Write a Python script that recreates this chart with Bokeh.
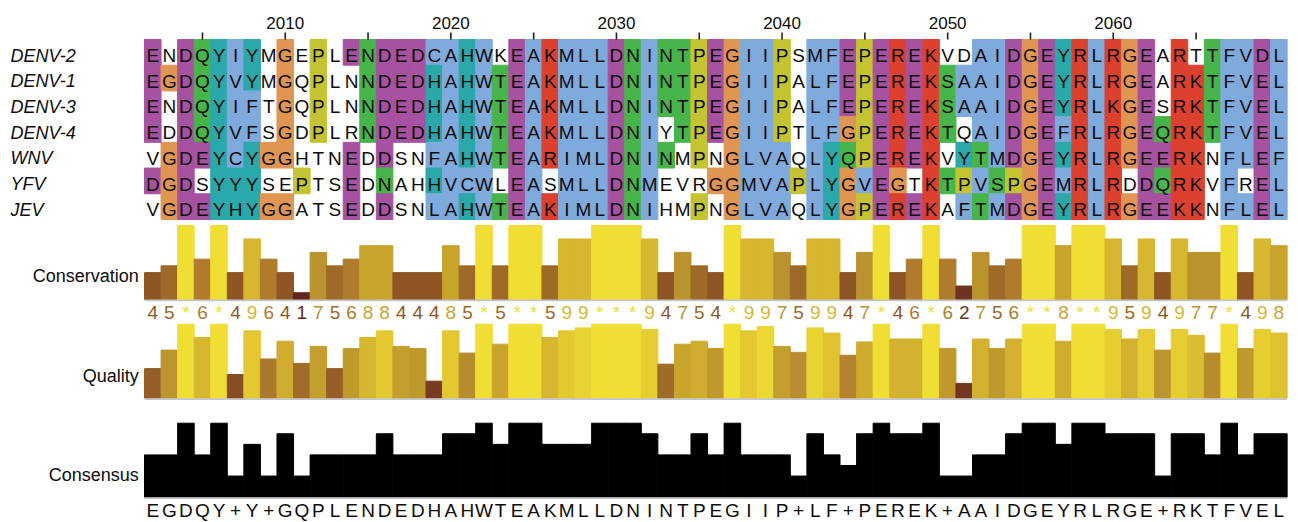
from bokeh.plotting import figure
from bokeh.models import Range1d
from bokeh.embed import file_html
from bokeh.resources import INLINE
from bokeh.core.properties import value

# ---------------- data ----------------
species = ["DENV-2", "DENV-1", "DENV-3", "DENV-4", "WNV", "YFV", "JEV"]
sequences = [
    "ENDQYIYMGEPLENDEDCAHWKEAKMLLDNINTPEGIIPSMFEPEREKVDAIDGEYRLRGEARTTFVDL",
    "EGDQYVYMGQPLNNDEDHAHWTEAKMLLDNINTPEGIIPALFEPEREKSAAIDGEYRLRGEARKTFVEL",
    "ENDQYIFTGQPLNNDEDHAHWTEAKMLLDNINTPEGIIPALFEPEREKSAAIDGEYRLKGESRKTFVEL",
    "EDDQYVFSGDPLRNDEDHAHWTEAKMLLDNIYTPEGIIPTLFGPEREKTQAIDGEFRLRGEQRKTFVEL",
    "VGDEYCYGGHTNEDDSNFAHWTEARIMLDNINMPNGLVAQLYQPEREKVYTMDGEYRLRGEERKNFLEF",
    "DGDSYYYSEPTSEDNAHHVCWLEASMLLDNMEVRGGMVAPLYGVEGTKTPVSPGEMRLRDDQRKVFREL",
    "VGDEYHYGGATSEDDSNLAHWTEAKIMLDNIHMPNGLVAQLYGPEREKAFTMDGEYRLRGEEKKNFLEL",
]
# 1 = residue is coloured (Clustal X scheme), 0 = left white
colour_masks = [
    "1011111010 1011111111 1011111111 1111111110 1111111100 1111111111 101011111",
    "1111111010 1001111111 1111111111 1111111110 1111111111 1111111111 101111111",
    "1011111010 1001111111 1111111111 1111111110 1111111111 1111111111 101111111",
    "1011111010 1001111111 1111111111 1011111110 1111111110 1111111111 111111111",
    "0111111110 0010100111 1111111111 1101011110 1111111101 1111111111 111101111",
    "1110111001 0010100111 1011011111 1000111111 1111110111 1111111110 111101011",
    "0111111110 0010100111 1111111111 1001011110 1111111101 1111111111 111101111",
]
first_position = 2002
minor_ticks = [2005, 2015, 2025, 2035, 2045, 2055, 2065]
labelled_ticks = [2010, 2020, 2030, 2040, 2050, 2060]

conservation = ("4 5 * 6 * 4 9 6 4 1 7 5 6 8 8 4 4 4 8 5 * 5 * * 5 9 9 * * * "
                "9 4 7 5 4 * 9 9 7 5 9 9 4 7 * 4 6 * 6 2 7 5 6 * * 8 * * 9 5 "
                "9 4 9 7 7 * 4 9 8").split()
quality = [0.40, 0.65, 1.00, 0.82, 1.00, 0.32, 0.91, 0.53, 0.77, 0.47,
           0.70, 0.40, 0.67, 0.82, 0.91, 0.70, 0.67, 0.23, 0.91, 0.61,
           1.00, 0.73, 1.00, 1.00, 0.82, 0.91, 0.95, 1.00, 1.00, 1.00,
           0.93, 0.46, 0.73, 0.77, 0.67, 1.00, 0.91, 0.97, 0.70, 0.62,
           0.95, 0.88, 0.58, 0.76, 1.00, 0.80, 0.80, 1.00, 0.67, 0.20,
           0.80, 0.67, 0.80, 1.00, 1.00, 0.77, 1.00, 1.00, 0.93, 0.80,
           0.93, 0.65, 0.93, 0.85, 0.61, 1.00, 0.67, 0.93, 0.88]
consensus = "EGDQY+Y+GQPLENDEDHAHWTEAKMLLDNINTPEGIIP+LF+PEREK+AAIDGEYRLRGE+RKTFVEL"
consensus_count = [4, 4, 7, 4, 7, 2, 5, 2, 6, 2,
                   4, 4, 4, 4, 6, 4, 4, 4, 6, 6,
                   7, 5, 7, 7, 5, 5, 5, 7, 7, 7,
                   6, 4, 4, 6, 4, 7, 4, 4, 4, 2,
                   6, 4, 3, 6, 7, 6, 6, 7, 2, 2,
                   4, 4, 6, 7, 7, 5, 7, 7, 6, 6,
                   6, 2, 6, 6, 4, 7, 4, 6, 6]
n_seqs = 7

# ---------------- styling ----------------
residue_colours = {
    "blue": "#7faadc", "red": "#dc402e", "purple": "#a752a0", "green": "#48b54a",
    "orange": "#e09652", "yellow": "#c4c432", "cyan": "#2aa8aa",
}
residue_class = {}
for aa in "AILMFWVC":
    residue_class[aa] = "blue"
for aa in "KR":
    residue_class[aa] = "red"
for aa in "ED":
    residue_class[aa] = "purple"
for aa in "NQST":
    residue_class[aa] = "green"
residue_class["G"] = "orange"
residue_class["P"] = "yellow"
for aa in "HY":
    residue_class[aa] = "cyan"

level_colours = ["#54201a", "#60281c", "#6e3420", "#7e4522", "#8e5624", "#9d6a28",
                 "#ae7c2c", "#ba922e", "#c9a42c", "#d7b630", "#e4c832", "#f0de34"]


def hex2rgb(h):
    return tuple(int(h[i:i + 2], 16) for i in (1, 3, 5))


def grad(level):
    level = min(max(level, 0.0), 11.0)
    lo = int(level)
    hi = min(lo + 1, 11)
    t = level - lo
    a, b = hex2rgb(level_colours[lo]), hex2rgb(level_colours[hi])
    return "#%02x%02x%02x" % tuple(int(round(a[k] + (b[k] - a[k]) * t)) for k in range(3))


FONT = value("Liberation Sans")
INK = "#0d0d0d"

# ---------------- layout (page pixels) ----------------
W, H, MARGIN = 1298, 522, 0
COL_LEFT, COL_W = 144.0, 16.56
ROW_TOP, ROW_H = 39.0, 25.71
CONS_BASE, QUAL_BASE, CSUS_BASE, TRACK_H = 299.0, 397.7, 496.7, 74.0

n = len(sequences[0])
positions = [first_position + i for i in range(n)]


def frac_x(px):
    return (px - MARGIN) / W


def frac_y(py):
    return (MARGIN + H - py) / H


def band(va, fa, vb, fb):
    span = (vb - va) / (fb - fa)
    start = va - fa * span
    return start, start + span


xs, xe = band(positions[0] - 0.5, frac_x(COL_LEFT), positions[-1] + 0.5, frac_x(COL_LEFT + n * COL_W))


def x_at(px):
    return xs + frac_x(px) * (xe - xs)


nrows = len(species)
ys, ye = band(-0.5, frac_y(ROW_TOP), nrows - 0.5, frac_y(ROW_TOP + nrows * ROW_H))
cs, ce = band(0, frac_y(CONS_BASE), 11, frac_y(CONS_BASE - TRACK_H))
qs, qe = band(0, frac_y(QUAL_BASE), 1, frac_y(QUAL_BASE - TRACK_H))
ss, se = band(0, frac_y(CSUS_BASE), 100, frac_y(CSUS_BASE - TRACK_H))

p = figure(width=W, height=H, x_range=Range1d(xs, xe), y_range=Range1d(ys, ye),
           output_backend="svg", toolbar_location=None, min_border=0,
           x_axis_type=None, y_axis_type=None, outline_line_color=None)
p.extra_y_ranges = {"cons": Range1d(cs, ce), "qual": Range1d(qs, qe), "csus": Range1d(ss, se)}
p.background_fill_color = "white"
p.border_fill_color = "white"

# ---------------- alignment ----------------
cx, cy, cc = [], [], []
tx, ty, tt = [], [], []
mid_off = (55.0 - (ROW_TOP + ROW_H / 2)) / ROW_H   # visual centre of the letters
for r, (seq, mask) in enumerate(zip(sequences, colour_masks)):
    mask = mask.replace(" ", "")
    for i, (aa, m) in enumerate(zip(seq, mask)):
        if m == "1" and aa in residue_class:
            cx.append(positions[i])
            cy.append(r)
            cc.append(residue_colours[residue_class[aa]])
        tx.append(positions[i])
        ty.append(r + mid_off)
        tt.append(aa)

p.rect(x=cx, y=cy, width=1, height=1, fill_color=cc, line_color=cc, line_width=1.0)
p.text(x=tx, y=ty, text=tt, text_font=FONT, text_font_size="19px", text_color=INK,
       text_align="center", text_baseline="middle")

p.text(x=[x_at(10)] * nrows, y=[r + mid_off for r in range(nrows)], text=species,
       text_font=FONT, text_font_size="18px", text_font_style="italic", text_color=INK,
       text_align="left", text_baseline="middle")

# position ruler
all_ticks = sorted(minor_ticks + labelled_ticks)
p.segment(x0=all_ticks, x1=all_ticks, y0=[-0.5 - 7 / ROW_H] * len(all_ticks),
          y1=[-0.5] * len(all_ticks), line_color="#222222", line_width=1.6)
p.text(x=labelled_ticks, y=[-0.5 - (ROW_TOP - 22.5) / ROW_H] * len(labelled_ticks),
       text=[str(t) for t in labelled_ticks], text_font=FONT, text_font_size="17px",
       text_color=INK, text_align="center", text_baseline="middle")

# ---------------- conservation ----------------
cons_levels = [11 if c == "*" else (10 if c == "+" else int(c)) for c in conservation]
cons_cols = [level_colours[v] for v in cons_levels]
p.vbar(x=positions, top=cons_levels, bottom=0, width=1, fill_color=cons_cols,
       line_color=cons_cols, line_width=1.0, y_range_name="cons")
p.segment(x0=[positions[0] - 0.5], x1=[positions[-1] + 0.5], y0=[-0.9 * 11 / TRACK_H],
          y1=[-0.9 * 11 / TRACK_H], line_color="#c4c6ca", line_width=1.6, y_range_name="cons")
p.text(x=positions, y=[-(312.0 - CONS_BASE) * 11 / TRACK_H] * n, text=conservation,
       text_color=cons_cols, text_font=FONT, text_font_size="19px", text_align="center",
       text_baseline="middle", y_range_name="cons")
p.text(x=[x_at(138.3)], y=[(CONS_BASE - 275.0) * 11 / TRACK_H], text=["Conservation"],
       text_font=FONT, text_font_size="18px", text_color=INK, text_align="right",
       text_baseline="middle", y_range_name="cons")

# ---------------- quality ----------------
qual_cols = [grad(q * 11) for q in quality]
p.vbar(x=positions, top=quality, bottom=0, width=1, fill_color=qual_cols,
       line_color=qual_cols, line_width=1.0, y_range_name="qual")
p.segment(x0=[positions[0] - 0.5], x1=[positions[-1] + 0.5], y0=[-0.9 / TRACK_H],
          y1=[-0.9 / TRACK_H], line_color="#c4c6ca", line_width=1.6, y_range_name="qual")
p.text(x=[x_at(138.3)], y=[(QUAL_BASE - 375.0) / TRACK_H], text=["Quality"],
       text_font=FONT, text_font_size="18px", text_color=INK, text_align="right",
       text_baseline="middle", y_range_name="qual")

# ---------------- consensus ----------------
csus_pct = [c / n_seqs * 100 for c in consensus_count]
p.vbar(x=positions, top=csus_pct, bottom=0, width=1, fill_color="black",
       line_color="black", line_width=1.0, y_range_name="csus")
p.segment(x0=[positions[0] - 0.5], x1=[positions[-1] + 0.5], y0=[-0.9 * 100 / TRACK_H],
          y1=[-0.9 * 100 / TRACK_H], line_color="#c4c6ca", line_width=1.6, y_range_name="csus")
p.text(x=positions, y=[-(510.0 - CSUS_BASE) * 100 / TRACK_H] * n, text=list(consensus),
       text_font=FONT, text_font_size="19px", text_color=INK, text_align="center",
       text_baseline="middle", y_range_name="csus")
p.text(x=[x_at(138.3)], y=[(CSUS_BASE - 474.4) * 100 / TRACK_H], text=["Consensus"],
       text_font=FONT, text_font_size="18px", text_color=INK, text_align="right",
       text_baseline="middle", y_range_name="csus")

open("out.html", "w").write(file_html(p, INLINE))
